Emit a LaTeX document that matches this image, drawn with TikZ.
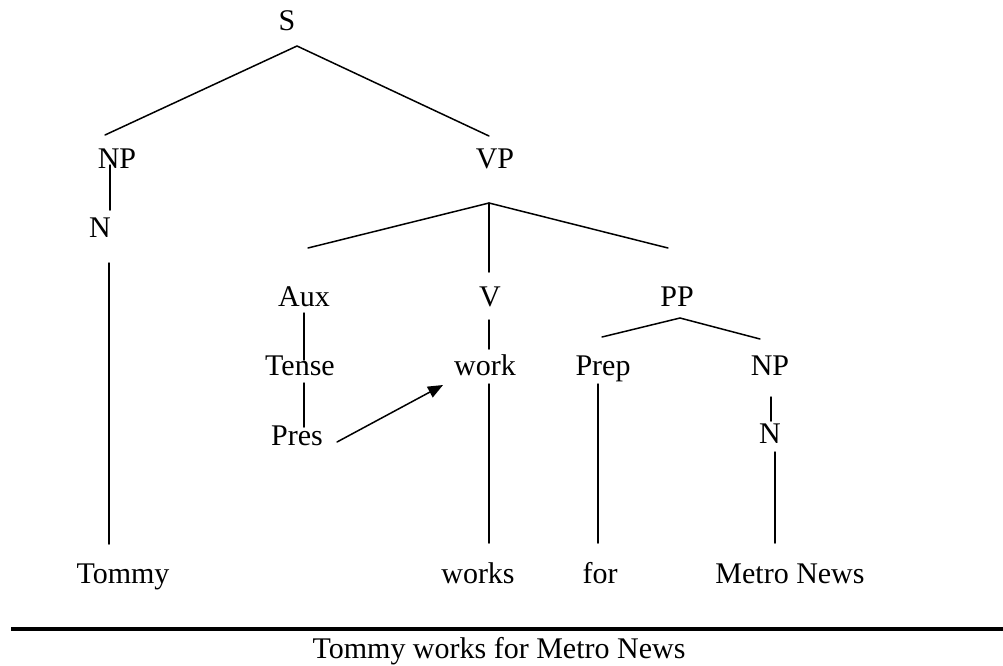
\documentclass[tikz,border=0pt]{standalone}
\usepackage{fontspec}
\setmainfont{Liberation Serif}
\usetikzlibrary{arrows.meta}
\begin{document}
\begin{tikzpicture}[x=1pt,y=-1pt,
    lbl/.style={anchor=base, inner sep=0pt, font=\fontsize{30}{36}\selectfont},
    branch/.style={line width=1.5pt, line cap=round},
    rule/.style={line width=4pt}]
\useasboundingbox (0,0) rectangle (1003,665);

% category and word labels (placed on their baselines)
\node[lbl] (S)     at (287,30)  {S};
\node[lbl] (NP)    at (117,168) {NP};
\node[lbl] (VP)    at (495,168) {VP};
\node[lbl] (N)     at (100,237) {N};
\node[lbl] (Aux)   at (304,306) {Aux};
\node[lbl] (V)     at (490,306) {V};
\node[lbl] (PP)    at (677,306) {PP};
\node[lbl] (Tense) at (300,375) {Tense};
\node[lbl] (work)  at (485,375) {work};
\node[lbl] (Prep)  at (603,375) {Prep};
\node[lbl] (NPb)   at (770,375) {NP};
\node[lbl] (Pres)  at (297,445) {Pres};
\node[lbl] (Nb)    at (770,443) {N};
\node[lbl] (Tommy) at (123,583) {Tommy};
\node[lbl] (works) at (478,583) {works};
\node[lbl] (for)   at (600,583) {for};
\node[lbl] (Metro) at (790,583) {Metro News};
\node[lbl] (sent)  at (499,658) {Tommy works for Metro News};

% branch end points
\coordinate (S-j)     at (297,46);
\coordinate (NP-t)    at (105,135);
\coordinate (VP-t)    at (489,136);
\coordinate (NP-b)    at (110,165);
\coordinate (N-t)     at (110,210);
\coordinate (N-b)     at (109,263);
\coordinate (Tommy-t) at (109,544);
\coordinate (VP-j)    at (489,203);
\coordinate (Aux-t)   at (308,248);
\coordinate (V-t)     at (489,272);
\coordinate (PP-t)    at (668,248);
\coordinate (Aux-b)   at (304,313);
\coordinate (Tense-t) at (304,360);
\coordinate (Tense-b) at (304,383);
\coordinate (Pres-t)  at (304,427);
\coordinate (V-b)     at (489,320);
\coordinate (work-t)  at (489,349);
\coordinate (work-b)  at (489,384);
\coordinate (works-t) at (489,543);
\coordinate (PP-j)    at (680,318);
\coordinate (Prep-t)  at (602,337);
\coordinate (NPb-t)   at (760,339);
\coordinate (Prep-b)  at (598,384);
\coordinate (for-t)   at (598,543);
\coordinate (NPb-b)   at (771,397);
\coordinate (Nb-t)    at (771,421);
\coordinate (Nb-b)    at (775,452);
\coordinate (Metro-t) at (775,543);
\coordinate (Pres-r)  at (337,442);
\coordinate (work-l)  at (443,385);
\coordinate (rule-l)  at (11,629);
\coordinate (rule-r)  at (1003,629);

% tree branches
\draw[branch] (NP-t) -- (S-j) -- (VP-t);
\draw[branch] (NP-b) -- (N-t);
\draw[branch] (N-b) -- (Tommy-t);
\draw[branch] (Aux-t) -- (VP-j) -- (PP-t);
\draw[branch] (VP-j) -- (V-t);
\draw[branch] (Aux-b) -- (Tense-t);
\draw[branch] (Tense-b) -- (Pres-t);
\draw[branch] (V-b) -- (work-t);
\draw[branch] (work-b) -- (works-t);
\draw[branch] (Prep-t) -- (PP-j) -- (NPb-t);
\draw[branch] (Prep-b) -- (for-t);
\draw[branch] (NPb-b) -- (Nb-t);
\draw[branch] (Nb-b) -- (Metro-t);

% tense hopping onto the verb
\draw[branch, -{Triangle[length=15pt,width=12pt]}] (Pres-r) -- (work-l);

% rule above the sentence
\draw[rule] (rule-l) -- (rule-r);
\end{tikzpicture}
\end{document}
